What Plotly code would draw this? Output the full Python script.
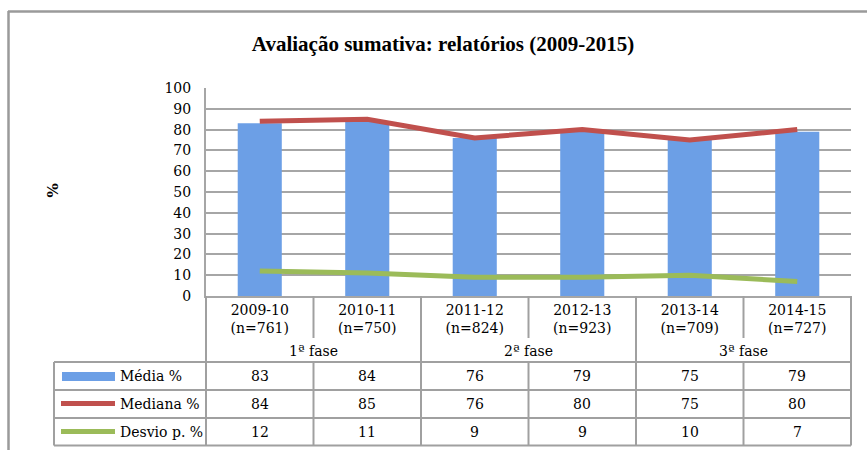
import plotly.graph_objects as go

# ---- data ----
anos = ["2009-10", "2010-11", "2011-12", "2012-13", "2013-14", "2014-15"]
n_relatorios = [761, 750, 824, 923, 709, 727]
fases = ["1ª fase", "2ª fase", "3ª fase"]
media = [83, 84, 76, 79, 75, 79]
mediana = [84, 85, 76, 80, 75, 80]
desvio = [12, 11, 9, 9, 10, 7]
series_names = ["Média %", "Mediana %", "Desvio p. %"]
y_ticks = list(range(0, 101, 10))

# ---- layout constants (pixels) ----
W, H = 867, 450
L, R, T, B = 206, 851, 88, 296
BLUE = "#6C9FE6"
RED = "#C0504D"
GREEN = "#9BBB59"
GRID = "#A6A6A6"
TBL = "#A0A0A0"
FONT = "DejaVu Serif"

def px(x):
    return (x - L) / (R - L)

def py(y):
    return (B - y) / (B - T)

idx = list(range(len(anos)))
ticktext = [f"{a}<br>(n={n})" for a, n in zip(anos, n_relatorios)]

fig = go.Figure()
fig.add_trace(go.Bar(x=idx, y=media, width=0.41, name=series_names[0],
                     marker=dict(color=BLUE, line=dict(width=0))))
fig.add_trace(go.Scatter(x=idx, y=mediana, mode="lines", name=series_names[1],
                         line=dict(color=RED, width=5)))
fig.add_trace(go.Scatter(x=idx, y=desvio, mode="lines", name=series_names[2],
                         line=dict(color=GREEN, width=5)))

shapes = []
def hline(x0, x1, y, color=TBL, w=2):
    shapes.append(dict(type="line", xref="paper", yref="paper",
                       x0=px(x0), x1=px(x1), y0=py(y), y1=py(y),
                       line=dict(color=color, width=w)))
def vline(x, y0, y1, color=TBL, w=2):
    shapes.append(dict(type="line", xref="paper", yref="paper",
                       x0=px(x), x1=px(x), y0=py(y0), y1=py(y1),
                       line=dict(color=color, width=w)))

# outer chart border
hline(8, 867, 11.5, "#9A9A9A", 2.5)
vline(8.5, 11, 450, "#9A9A9A", 2.5)

# table structure
ncat = len(anos)
colw = (R - L) / ncat
row_y = [362, 390, 418, 445.5]
for k in range(ncat + 1):
    xk = L + k * colw
    if k % 2 == 0:
        vline(xk, 296, 445.5)
    else:
        vline(xk, 296, 338)
        vline(xk, 362, 445.5)
for yy in row_y:
    hline(54, R, yy)
vline(54, 362, 445.5)

# legend keys
shapes.append(dict(type="rect", xref="paper", yref="paper",
                   x0=px(62), x1=px(115), y0=py(372), y1=py(381),
                   fillcolor=BLUE, line=dict(width=0)))
hline(61, 115, 403.5, RED, 5)
hline(61, 115, 431.5, GREEN, 5)

annotations = []
# phase labels
for j, f in enumerate(fases):
    annotations.append(dict(x=2 * j + 0.5, xref="x", y=py(351), yref="paper",
                            text=f, showarrow=False, xanchor="center", yanchor="middle",
                            font=dict(family=FONT, size=14, color="black")))
# table values
row_centers = [376, 404, 431.5]
for r, vals in enumerate([media, mediana, desvio]):
    annotations.append(dict(x=px(118), xref="paper", y=py(row_centers[r]), yref="paper",
                            text=series_names[r], showarrow=False,
                            xanchor="left", yanchor="middle",
                            font=dict(family=FONT, size=14, color="black")))
    for i, v in enumerate(vals):
        annotations.append(dict(x=i, xref="x", y=py(row_centers[r]), yref="paper",
                                text=str(v), showarrow=False,
                                xanchor="center", yanchor="middle",
                                font=dict(family=FONT, size=14, color="black")))
# y axis label
annotations.append(dict(x=px(52.5), xref="paper", y=py(191), yref="paper",
                        text="<b>%</b>", textangle=-90, showarrow=False,
                        xanchor="center", yanchor="middle",
                        font=dict(family=FONT, size=15, color="black")))

fig.update_layout(
    width=W, height=H,
    margin=dict(l=L, r=W - R, t=T, b=H - B, autoexpand=False),
    paper_bgcolor="white", plot_bgcolor="white",
    showlegend=False,
    title=dict(text="<b>Avaliação sumativa: relatórios (2009-2015)</b>",
               x=443 / W, xanchor="center", y=1 - 44 / H, yanchor="middle",
               font=dict(family="Liberation Serif", size=21, color="black")),
    xaxis=dict(range=[-0.5, ncat - 0.5], tickvals=idx, ticktext=ticktext,
               showgrid=False, zeroline=False, showline=True,
               linecolor=GRID, linewidth=2, ticks="", fixedrange=True,
               tickfont=dict(family=FONT, size=14, color="black")),
    yaxis=dict(range=[0, 100], tickvals=y_ticks, showgrid=True, gridcolor=GRID,
               gridwidth=1.5, zeroline=False, showline=True, linecolor=GRID,
               linewidth=2, ticks="", ticklabelstandoff=10,
               tickfont=dict(family=FONT, size=14, color="black")),
    shapes=shapes,
    annotations=annotations,
    bargap=0.59,
)

fig.write_html("out.html", config={"displayModeBar": False},
               post_script="document.body.style.margin='0';document.body.style.padding='0';")
